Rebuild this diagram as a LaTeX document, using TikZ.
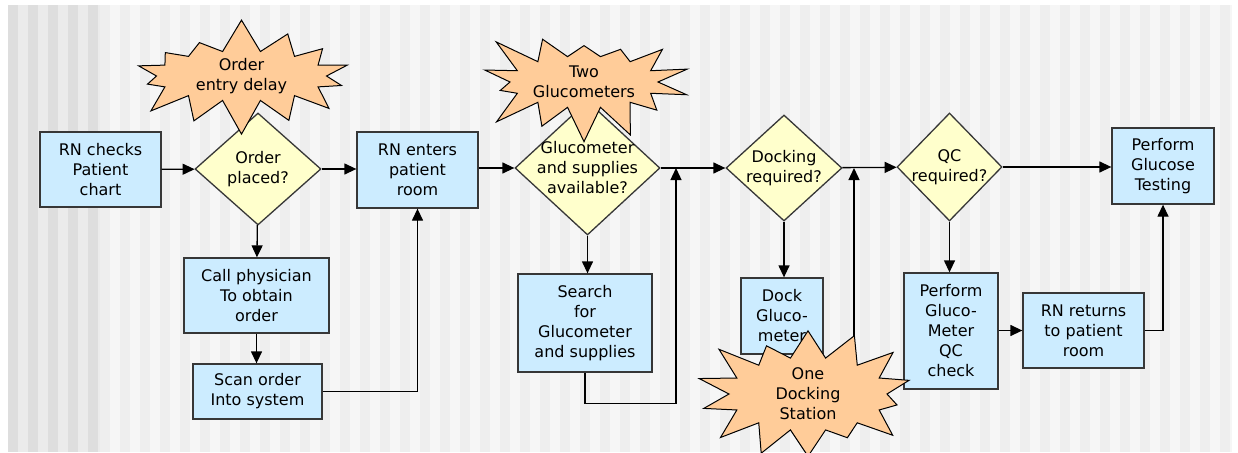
\documentclass[tikz,border=0pt]{standalone}
\usepackage{fontspec}
\setmainfont{DejaVu Sans}
\usetikzlibrary{shapes.geometric,shapes.symbols,arrows.meta}
\definecolor{boxblue}{RGB}{204,236,255}
\definecolor{decyellow}{RGB}{255,255,204}
\definecolor{burstorange}{RGB}{255,204,153}
\definecolor{edgegray}{RGB}{55,55,55}
\definecolor{bgpale}{RGB}{246,246,246}
\definecolor{bgstripe}{RGB}{238,238,238}
\definecolor{bandlight}{RGB}{235,235,235}
\definecolor{banddark}{RGB}{222,222,222}

\begin{document}
\begin{tikzpicture}[x=1pt,y=-1pt,line width=1.3pt,
  font=\fontsize{16}{20}\selectfont,
  stepbox/.style={draw=edgegray,fill=boxblue,align=center,inner sep=0pt},
  decision/.style={diamond,draw=edgegray,fill=decyellow,inner sep=0pt},
  burst/.style={starburst,draw=black,line width=1pt,fill=burstorange,align=center,inner sep=0pt,
    starburst points=14,starburst point height=40pt},
  flow/.style={-{Triangle[length=12pt,width=11pt]}}]
\useasboundingbox (0,0) rectangle (1238,452);
\fill[bgpale] (8,5) rectangle (1232,452);
\foreach \x in {100,120,...,1220} \fill[bgstripe] (\x,5) rectangle ++(10,447);
\fill[bandlight] (8,5) rectangle (100,452);
\foreach \x in {8,28,...,88} \fill[banddark] (\x,5) rectangle ++(10,447);

\node[stepbox,minimum width=121pt,minimum height=75pt] (chart) at (100.5,169.5) {RN checks\\Patient\\chart};
\node[decision,minimum width=126pt,minimum height=112pt,label={[align=center]center:Order\\placed?}] (placed) at (258,169) {};
\node[stepbox,minimum width=145pt,minimum height=75pt] (call) at (256.5,295.5) {Call physician\\To obtain\\order};
\node[stepbox,minimum width=129pt,minimum height=55pt] (scan) at (257.5,391.5) {Scan order\\Into system};
\node[stepbox,minimum width=121pt,minimum height=76pt] (enter) at (417.5,170) {RN enters\\patient\\room};
\node[decision,minimum width=145pt,minimum height=134pt,label={[align=center]center:Glucometer\\and supplies\\available?}] (avail) at (587.5,168) {};
\node[stepbox,minimum width=134pt,minimum height=98pt] (search) at (585,323) {Search\\for\\Glucometer\\and supplies};
\node[decision,minimum width=116pt,minimum height=106pt,label={[align=center]center:Docking\\required?}] (docking) at (784,168) {};
\node[stepbox,minimum width=82pt,minimum height=76pt] (dock) at (782,316) {Dock\\Gluco-\\meter};
\node[decision,minimum width=105pt,minimum height=108pt,label={[align=center]center:QC\\required?}] (qc) at (949.5,167) {};
\node[stepbox,minimum width=94pt,minimum height=116pt] (qccheck) at (951,331) {Perform\\Gluco-\\Meter\\QC\\check};
\node[stepbox,minimum width=121pt,minimum height=75pt] (returns) at (1083.5,330.5) {RN returns\\to patient\\room};
\node[stepbox,minimum width=102pt,minimum height=76pt] (testing) at (1163,166) {Perform\\Glucose\\Testing};

\coordinate (join1) at (676,168);
\coordinate (join2) at (854,168);

\draw[flow] (chart) -- (placed);
\draw[flow] (placed) -- (enter.west |- placed);
\draw[flow] (placed) -- (call);
\draw[flow] (call) -- (call |- scan.north);
\draw[flow] (scan) -| (enter);
\draw[flow] (enter.east |- avail) -- (avail);
\draw[flow] (avail) -- (search.north -| avail);
\draw[flow] (avail) -- (docking);
\draw[flow] (search.south) -- ++(0,31) -| (join1);
\draw[flow] (docking) -- (dock.north -| docking);
\draw[flow] (dock.south) -- ++(0,10) -| (join2);
\draw[flow] (docking) -- (qc);
\draw[flow] (qc) -- (testing.west |- qc);
\draw[flow] (qc) -- (qccheck.north -| qc);
\draw[flow] (qccheck.east |- returns) -- (returns);
\draw[flow] (returns) -| (testing);

\node[burst,minimum width=238pt,minimum height=80pt,starburst point height=34pt,random starburst=7] (delay) at (241.5,76) {Order\\entry delay};
\node[burst,minimum width=228pt,minimum height=132pt,random starburst=23] (twometers) at (584,82) {Two\\Glucometers};
\node[burst,minimum width=238pt,minimum height=120pt,random starburst=41] (onestation) at (808,394) {One\\Docking\\Station};
\end{tikzpicture}
\end{document}
